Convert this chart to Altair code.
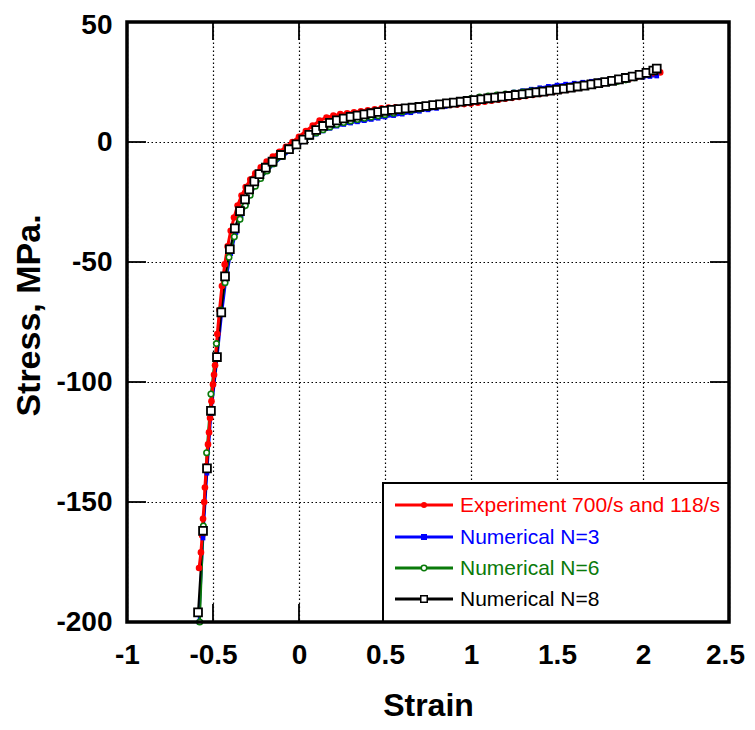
import altair as alt
import pandas as pd

# ---------------- data ----------------
exp_strain = [-0.581, -0.570, -0.563, -0.558, -0.551, -0.547, -0.539, -0.529, -0.523, -0.517, -0.509,
              -0.500, -0.494, -0.488, -0.475, -0.462, -0.448, -0.432, -0.415, -0.397, -0.378,
              -0.357, -0.334, -0.310, -0.283, -0.254, -0.222, -0.188, -0.152, -0.114, -0.076,
              -0.038, 0.000, 0.040, 0.080, 0.120, 0.160, 0.200, 0.240, 0.280, 0.320, 0.360,
              0.400, 0.440, 0.480, 0.520, 0.560, 0.600, 0.640, 0.680, 0.720, 0.760, 0.800,
              0.840, 0.880, 0.920, 0.960, 1.000, 1.040, 1.080, 1.120, 1.160, 1.200, 1.240,
              1.280, 1.320, 1.360, 1.400, 1.440, 1.480, 1.520, 1.560, 1.600, 1.640, 1.680,
              1.720, 1.760, 1.800, 1.840, 1.880, 1.920, 1.960, 2.000, 2.040, 2.070, 2.100]
exp_stress = [-177.5, -171, -164, -157, -150, -144, -135, -126, -121, -115, -108,
              -101, -97, -93, -80, -70, -60, -51, -43.5, -37, -31.5,
              -26.5, -22.3, -18.8, -15.7, -13.0, -10.5, -8.2, -6.1, -4.1, -2.0,
              0.0, 2.2, 4.6, 6.8, 8.9, 10.2, 11.0, 11.6, 12.0, 12.4, 12.8,
              13.2, 13.6, 14.0, 14.3, 14.4, 14.5, 14.6, 14.7, 14.8, 14.9, 15.0,
              15.2, 15.4, 15.6, 15.8, 16.0, 16.4, 16.8, 17.2, 17.6, 18.0, 18.4,
              18.8, 19.2, 19.6, 20.0, 20.4, 20.9, 21.4, 21.8, 22.3, 22.8, 23.3,
              23.8, 24.3, 24.8, 25.3, 25.8, 26.4, 27.0, 27.6, 28.2, 28.6, 29.0]

n3_strain = [-0.582, -0.558, -0.535, -0.511, -0.476, -0.449, -0.425, -0.397, -0.367, -0.337,
             -0.307, -0.281, -0.251, -0.221, -0.184, -0.145, -0.096, -0.050, -0.008, 0.030,
             0.065, 0.10, 0.14, 0.18, 0.22, 0.26, 0.30, 0.34, 0.38, 0.42, 0.46, 0.50, 0.55,
             0.60, 0.65, 0.70, 0.75, 0.80, 0.85, 0.90, 0.95, 1.00, 1.05, 1.10, 1.15, 1.20,
             1.25, 1.30, 1.35, 1.40, 1.45, 1.50, 1.55, 1.60, 1.65, 1.70, 1.75, 1.80, 1.85,
             1.90, 1.95, 2.00, 2.04, 2.08]
n3_stress = [-200, -165, -138, -113, -90, -71.5, -57.5, -46.5, -37.8, -30.8,
             -25.6, -21.6, -18.0, -15.0, -12.0, -9.2, -6.2, -3.6, -1.5, 0.4,
             1.9, 3.3, 4.6, 5.7, 6.6, 7.3, 7.9, 8.4, 8.9, 9.4, 9.9, 10.4, 11.0,
             11.6, 12.2, 12.8, 13.4, 14.0, 14.8, 15.7, 16.6, 17.5, 18.3, 19.0, 19.6, 20.2,
             20.8, 21.4, 22.0, 22.6, 23.2, 23.7, 24.1, 24.5, 24.9, 25.3, 25.6, 25.9, 26.2,
             26.5, 26.8, 27.0, 27.3, 27.5]

n6_strain = [-0.577, -0.556, -0.537, -0.512, -0.480, -0.455, -0.430, -0.407, -0.376, -0.343,
             -0.312, -0.284, -0.254, -0.223, -0.186, -0.146, -0.098, -0.052, -0.010, 0.030,
             0.065, 0.10, 0.14, 0.18, 0.22, 0.26, 0.30, 0.34, 0.38, 0.42, 0.46, 0.50, 0.55,
             0.60, 0.65, 0.70, 0.75, 0.80, 0.85, 0.90, 0.95, 1.00, 1.05, 1.10, 1.15, 1.20,
             1.25, 1.30, 1.35, 1.40, 1.45, 1.50, 1.55, 1.60, 1.65, 1.70, 1.75, 1.80, 1.85,
             1.90, 1.95, 2.00, 2.04, 2.08]
n6_stress = [-200, -160, -129.5, -105, -84, -70, -58.6, -48, -39.5, -32.2,
             -26.5, -22.2, -18.4, -15.2, -12.1, -9.1, -6.0, -3.4, -1.2, 0.7,
             2.3, 3.8, 5.1, 6.3, 7.3, 8.1, 8.8, 9.4, 9.9, 10.4, 10.9, 11.4, 12.0,
             12.6, 13.2, 13.8, 14.4, 15.0, 15.7, 16.5, 17.3, 18.1, 18.7, 19.2, 19.6, 20.0,
             20.4, 20.8, 21.2, 21.6, 22.0, 22.3, 22.7, 23.1, 23.5, 23.9, 24.3, 24.7, 25.2,
             25.9, 26.8, 27.9, 29.3, 31.0]

n8_strain = [-0.587, -0.558, -0.535, -0.512, -0.477, -0.452, -0.430, -0.402, -0.373, -0.343,
             -0.314, -0.290, -0.260, -0.230, -0.193, -0.154, -0.105, -0.058, -0.015, 0.025,
             0.06, 0.10, 0.14, 0.18, 0.22, 0.26, 0.30, 0.34, 0.38, 0.42, 0.46, 0.50, 0.54,
             0.58, 0.62, 0.66, 0.70, 0.74, 0.78, 0.82, 0.86, 0.90, 0.94, 0.98, 1.02, 1.06,
             1.10, 1.14, 1.18, 1.22, 1.26, 1.30, 1.34, 1.38, 1.42, 1.46, 1.50, 1.54, 1.58,
             1.62, 1.66, 1.70, 1.74, 1.78, 1.82, 1.86, 1.90, 1.94, 1.98, 2.02, 2.06, 2.08]
n8_stress = [-196, -162, -136, -112, -89.6, -71, -56, -44.7, -36, -28.8,
             -23.9, -19.8, -16.4, -13.4, -10.7, -8.2, -5.4, -3.0, -1.0, 1.0,
             3.0, 5.0, 6.7, 8.0, 9.0, 9.8, 10.5, 11.0, 11.5, 12.0, 12.5, 13.0, 13.4,
             13.7, 14.0, 14.3, 14.6, 15.0, 15.4, 15.7, 16.1, 16.4, 16.8, 17.1, 17.5, 17.8,
             18.2, 18.5, 18.9, 19.2, 19.6, 19.9, 20.3, 20.7, 21.0, 21.4, 21.8, 22.2, 22.6,
             23.1, 23.5, 24.0, 24.5, 25.0, 25.5, 26.1, 26.7, 27.3, 28.0, 28.8, 29.8, 30.6]

series_names = ["Experiment 700/s and 118/s", "Numerical N=3", "Numerical N=6", "Numerical N=8"]
series_colors = ["#ff0000", "#0000ff", "#0a7a0a", "#000000"]

x_ticks = [-1, -0.5, 0, 0.5, 1, 1.5, 2, 2.5]
y_ticks = [-200, -150, -100, -50, 0, 50]
x_inner = [-0.5, 0, 0.5, 1, 1.5, 2]
y_inner = [-150, -100, -50, 0]

W, H = 602, 600
LAB_FONT = "Liberation Sans, Arial"
TXT_FONT = "Liberation Sans, Arial"

xaxis = alt.Axis(values=x_ticks, grid=True, gridColor="black", gridDash=[1.5, 2.5], gridWidth=1.2,
                 ticks=False, domain=False, labelFont=LAB_FONT, labelFontSize=28, labelFontWeight="bold",
                 labelColor="black", labelPadding=19, labelFlush=False, labelOverlap=False,
                 labelOffset={"condition": {"test": "datum.value == 2.5", "value": -4}, "value": 0},
                 labelExpr="'' + datum.value", title="Strain", titleFont=LAB_FONT, titleFontSize=32,
                 titleFontWeight="bold", titleColor="black", titleBaseline="middle", titleY=83)
yaxis = alt.Axis(values=y_ticks, grid=True, gridColor="black", gridDash=[1.5, 2.5], gridWidth=1.2,
                 ticks=False, domain=False, labelFont=LAB_FONT, labelFontSize=28, labelFontWeight="bold",
                 labelColor="black", labelPadding=15, labelFlush=False, labelOverlap=False,
                 labelOffset={"condition": {"test": "datum.value == 50", "value": 3}, "value": 0},
                 labelExpr="'' + datum.value", title="Stress, MPa.", titleFont=LAB_FONT, titleFontSize=34,
                 titleFontWeight="bold", titleColor="black", titleAngle=-90, titleBaseline="middle",
                 titleX=-98, titleY=293)

xs = alt.Scale(domain=[-1, 2.5], nice=False, zero=False)
ys = alt.Scale(domain=[-200, 50], nice=False, zero=False)
X = alt.X("strain:Q", scale=xs, axis=xaxis)
Y = alt.Y("stress:Q", scale=ys, axis=yaxis)


def df(sx, sy):
    return pd.DataFrame({"strain": sx, "stress": sy, "ord": list(range(len(sx)))})


layers = []

# inner ticks on all four sides
xt = pd.DataFrame({"strain": x_inner})
yt = pd.DataFrame({"stress": y_inner})
layers.append(alt.Chart(xt).mark_rule(color="black", strokeWidth=1.8).encode(x=X, y=alt.value(H), y2=alt.value(H - 18)))
layers.append(alt.Chart(xt).mark_rule(color="black", strokeWidth=1.8).encode(x=X, y=alt.value(0), y2=alt.value(18)))
layers.append(alt.Chart(yt).mark_rule(color="black", strokeWidth=1.8).encode(y=Y, x=alt.value(0), x2=alt.value(19)))
layers.append(alt.Chart(yt).mark_rule(color="black", strokeWidth=1.8).encode(y=Y, x=alt.value(W), x2=alt.value(W - 19)))

# series
data_sets = [(exp_strain, exp_stress), (n3_strain, n3_stress), (n6_strain, n6_stress), (n8_strain, n8_stress)]
frames = [df(sx, sy) for sx, sy in data_sets]
line_w = [3, 2.6, 2.2, 2]


def line_layer(i):
    return alt.Chart(frames[i]).mark_line(color=series_colors[i], strokeWidth=line_w[i]).encode(
        x=X, y=Y, order="ord:Q")


def point_layer(i):
    c = series_colors[i]
    base = alt.Chart(frames[i])
    if i == 0:
        pts = base.mark_point(shape="circle", filled=True, color=c, size=44, opacity=1)
    elif i == 1:
        pts = base.mark_point(shape="square", filled=True, color=c, size=22, opacity=1)
    elif i == 2:
        pts = base.mark_point(shape="circle", filled=True, fill="white", stroke=c, strokeWidth=1.6, size=30, opacity=1)
    else:
        pts = base.mark_point(shape="square", filled=True, fill="white", stroke=c, strokeWidth=1.8, size=62, opacity=1)
    return pts.encode(x=X, y=Y)


# numerical lines, then experiment, then numerical markers on top
for i in (1, 2, 3):
    layers.append(line_layer(i))
layers.append(line_layer(0))
layers.append(point_layer(0))
for i in (1, 2, 3):
    layers.append(point_layer(i))

# legend
one = alt.Data(values=[{"k": 1}])
lx0, ly0, lx1, ly1 = 256, 461, W, H
layers.append(alt.Chart(one).mark_rect(fill="white", stroke="black", strokeWidth=2).encode(
    x=alt.value(lx0), x2=alt.value(lx1), y=alt.value(ly0), y2=alt.value(ly1)))
row_y = [483, 515, 546, 577]
for i, name in enumerate(series_names):
    c = series_colors[i]
    ry = row_y[i]
    layers.append(alt.Chart(one).mark_rule(color=c, strokeWidth=3).encode(
        x=alt.value(268), x2=alt.value(326), y=alt.value(ry)))
    if i == 0:
        m = alt.Chart(one).mark_point(shape="circle", filled=True, color=c, size=36, opacity=1)
    elif i == 1:
        m = alt.Chart(one).mark_point(shape="square", filled=True, color=c, size=36, opacity=1)
    elif i == 2:
        m = alt.Chart(one).mark_point(shape="circle", filled=True, fill="white", stroke=c, strokeWidth=1.5, size=30, opacity=1)
    else:
        m = alt.Chart(one).mark_point(shape="square", filled=True, fill="white", stroke=c, strokeWidth=1.5, size=42, opacity=1)
    layers.append(m.encode(x=alt.value(297), y=alt.value(ry)))
    layers.append(alt.Chart(one).mark_text(align="left", baseline="middle", font=TXT_FONT, fontSize=21,
                                           color=c).encode(x=alt.value(333), y=alt.value(ry + 1),
                                                           text=alt.value(name)))

# frame
layers.append(alt.Chart(one).mark_rect(fill=None, stroke="black", strokeWidth=3.5).encode(
    x=alt.value(0), x2=alt.value(W), y=alt.value(0), y2=alt.value(H)))

chart = alt.layer(*layers).properties(
    width=W, height=H,
    autosize=alt.AutoSizeParams(type="none"),
    padding={"left": 119, "top": 14, "right": 18, "bottom": 100},
    background="white",
).configure_view(stroke=None)

chart.save("out.html", embed_options={"renderer": "svg", "actions": False})
